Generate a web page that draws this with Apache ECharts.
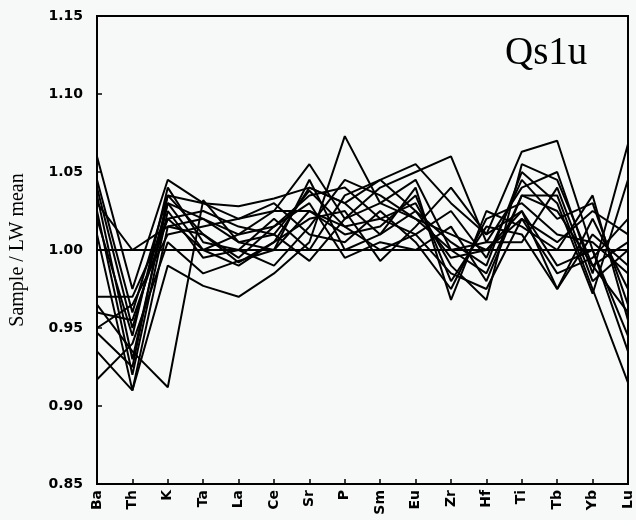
<!DOCTYPE html>
<html>
<head>
<meta charset="utf-8">
<script src="https://cdn.jsdelivr.net/npm/echarts@6/dist/echarts.min.js"></script>
<style>
  html, body { margin: 0; padding: 0; background: #f7f8f8; }
  #chart { width: 636px; height: 520px; }
</style>
</head>
<body>
<div id="chart"></div>
<script>
// Element order along the x axis
const elements = ['Ba', 'Th', 'K', 'Ta', 'La', 'Ce', 'Sr', 'P', 'Sm', 'Eu', 'Zr', 'Hf', 'Ti', 'Tb', 'Yb', 'Lu'];

// Y-axis ticks
const yTicks = [0.85, 0.90, 0.95, 1.00, 1.05, 1.10, 1.15];

// Sample / LW mean ratios, one array per sample
const s01 = [1.060, 0.975, 1.045, 1.030, 1.028, 1.033, 1.040, 1.030, 1.045, 1.055, 1.030, 1.010, 1.063, 1.070, 1.000, 0.935];
const s02 = [1.030, 1.000, 1.015, 1.020, 1.010, 1.025, 1.055, 1.020, 1.040, 1.050, 1.060, 1.005, 1.040, 1.050, 0.985, 1.068];
const s03 = [0.935, 0.910, 0.990, 0.977, 0.970, 0.985, 1.005, 1.073, 1.030, 1.020, 1.000, 0.985, 1.035, 1.035, 0.975, 0.915];
const s04 = [0.965, 0.935, 0.912, 1.032, 1.005, 1.000, 1.045, 1.000, 1.010, 1.040, 0.968, 1.025, 1.015, 1.000, 1.035, 0.955];
const s05 = [1.045, 0.960, 1.035, 1.010, 0.995, 1.015, 1.035, 1.040, 1.020, 1.030, 0.990, 0.968, 1.055, 1.045, 0.990, 1.005];
const s06 = [1.040, 0.950, 1.030, 1.000, 0.990, 1.005, 1.020, 1.025, 0.993, 1.015, 1.040, 1.010, 1.025, 0.975, 1.020, 0.975];
const s07 = [1.025, 0.920, 1.025, 0.995, 1.000, 1.020, 1.000, 1.035, 1.045, 1.025, 1.005, 0.990, 1.050, 1.030, 0.972, 1.045];
const s08 = [0.970, 0.970, 1.020, 1.025, 1.015, 1.010, 1.038, 1.015, 1.000, 1.010, 1.025, 0.995, 1.045, 1.020, 1.030, 0.965];
const s09 = [0.950, 0.965, 1.010, 1.015, 1.020, 1.030, 1.010, 1.005, 1.025, 1.005, 0.975, 1.020, 1.030, 1.010, 1.005, 0.985];
const s10 = [1.020, 0.945, 1.040, 1.005, 1.000, 0.990, 1.015, 1.045, 1.035, 1.020, 1.010, 1.000, 1.020, 0.985, 0.995, 1.020];
const s11 = [0.917, 0.940, 1.005, 0.985, 0.993, 1.000, 1.025, 1.010, 1.015, 1.035, 0.980, 1.015, 1.010, 0.975, 1.010, 0.990];
const s12 = [1.035, 0.930, 1.030, 1.020, 1.005, 1.010, 0.993, 1.020, 1.030, 1.045, 1.000, 1.005, 1.005, 1.040, 0.980, 1.000];
const s13 = [0.960, 0.955, 1.020, 1.000, 1.010, 1.015, 1.030, 0.995, 1.005, 1.000, 1.015, 0.980, 1.035, 1.025, 0.990, 0.960];
const s14 = [0.947, 0.925, 1.035, 1.030, 1.020, 1.025, 1.025, 1.015, 1.020, 1.010, 0.985, 0.975, 1.020, 1.005, 1.025, 1.010];
const s15 = [1.010, 0.910, 1.015, 1.010, 0.992, 1.005, 1.040, 1.030, 1.010, 1.025, 0.995, 1.000, 1.025, 0.990, 1.000, 0.945];

const samples = [s01, s02, s03, s04, s05, s06, s07, s08, s09, s10, s11, s12, s13, s14, s15];

// Reference level (sample equals the LW mean)
const unity = 1.00;

const chart = echarts.init(document.getElementById('chart'), null, { renderer: 'canvas' });

const lineSeries = samples.map((vals, i) => ({
  type: 'line',
  name: 'sample ' + (i + 1),
  data: vals,
  symbol: 'none',
  smooth: false,
  lineStyle: { color: '#000', width: 2 },
  silent: true,
  z: 3
}));

lineSeries.push({
  type: 'line',
  name: 'unity',
  data: elements.map(() => unity),
  symbol: 'none',
  lineStyle: { color: '#000', width: 1.8 },
  silent: true,
  z: 2
});

const tickFont = {
  color: '#000',
  fontFamily: 'DejaVu Sans',
  fontWeight: 'bold'
};

chart.setOption({
  animation: false,
  backgroundColor: '#f7f8f8',
  title: {
    text: 'Qs1u',
    left: 500,
    top: 29,
    textStyle: {
      fontFamily: 'Liberation Serif',
      fontWeight: 'normal',
      fontSize: 39,
      color: '#000'
    }
  },
  grid: {
    left: 97,
    right: 8,
    top: 16,
    bottom: 36,
    containLabel: false,
    outerBoundsMode: 'none',
    show: true,
    borderColor: '#000',
    borderWidth: 2,
    backgroundColor: 'transparent'
  },
  xAxis: {
    type: 'category',
    data: elements,
    boundaryGap: false,
    axisLine: { show: true, lineStyle: { color: '#000', width: 2 } },
    axisTick: { show: true, inside: true, length: 5, alignWithLabel: true, lineStyle: { color: '#000', width: 1.5 } },
    axisLabel: Object.assign({
      rotate: 90,
      interval: 0,
      margin: 6,
      fontSize: 14
    }, tickFont),
    splitLine: { show: false }
  },
  yAxis: {
    type: 'value',
    min: yTicks[0],
    max: yTicks[yTicks.length - 1],
    interval: 0.05,
    name: 'Sample / LW mean',
    nameLocation: 'middle',
    nameGap: 69,
    nameTextStyle: {
      fontFamily: 'Liberation Serif',
      fontSize: 20,
      color: '#000'
    },
    axisLine: { show: true, lineStyle: { color: '#000', width: 2 } },
    axisTick: { show: true, inside: true, length: 5, lineStyle: { color: '#000', width: 1.5 } },
    axisLabel: Object.assign({
      margin: 14,
      fontSize: 14,
      formatter: v => v.toFixed(2)
    }, tickFont),
    splitLine: { show: false }
  },
  series: lineSeries
});
</script>
</body>
</html>
